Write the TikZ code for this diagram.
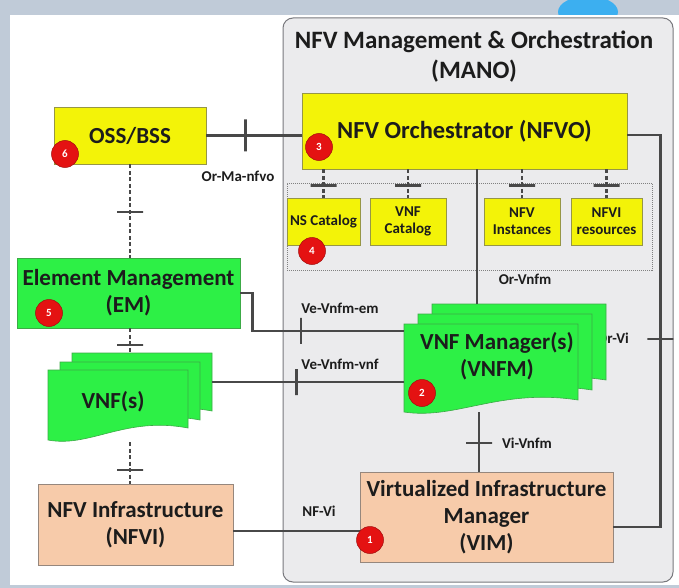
\documentclass[tikz,border=0pt]{standalone}
\usepackage{fontspec}
\setmainfont{Carlito}
\usetikzlibrary{calc}

\definecolor{backblue}{RGB}{192,203,216}
\definecolor{blobblue}{RGB}{60,175,240}
\definecolor{manogray}{RGB}{235,235,237}
\definecolor{manoedge}{RGB}{120,120,125}
\definecolor{boxyellow}{RGB}{243,243,8}
\definecolor{yellowedge}{RGB}{150,150,70}
\definecolor{boxgreen}{RGB}{45,240,70}
\definecolor{greenedge}{RGB}{60,170,70}
\definecolor{boxtan}{RGB}{247,203,170}
\definecolor{tanedge}{RGB}{150,135,125}
\definecolor{badgered}{RGB}{228,18,18}
\definecolor{linegray}{RGB}{72,72,72}
\definecolor{textdark}{RGB}{28,28,28}

\newcommand{\vnfsheet}[4]{%
	\filldraw[sheet] (#1,#2) -- (#1+#3,#2) -- (#1+#3,#2+#4-12)
		.. controls (#1+0.55*#3,#2+#4-24) and (#1+0.3*#3,#2+#4+8) .. (#1,#2+#4) -- cycle;}

\begin{document}
\begin{tikzpicture}[x=1pt,y=-1pt,
	yellowbox/.style={draw=yellowedge, fill=boxyellow, line width=0.8pt, inner sep=0pt, align=center, text=textdark},
	greenbox/.style={draw=greenedge, fill=boxgreen, line width=0.8pt, inner sep=0pt, align=center, text=textdark},
	tanbox/.style={draw=tanedge, fill=boxtan, line width=0.8pt, inner sep=0pt, align=center, text=textdark},
	sheet/.style={fill=boxgreen, draw=greenedge, line width=0.6pt},
	big/.style={font=\fontsize{23}{27}\selectfont\bfseries},
	small/.style={font=\fontsize{15}{17}\selectfont\bfseries},
	iflabel/.style={font=\fontsize{15}{17}\selectfont\bfseries, text=textdark, inner sep=0pt},
	link/.style={draw=linegray, line width=2.5pt},
	dotlink/.style={link, dash pattern=on 4pt off 2.5pt},
	crossbar/.style={draw=linegray, solid, line width=2.5pt, inner sep=0pt, minimum width=0pt, minimum height=26pt, sloped},
	badge/.style={circle, fill=badgered, draw=badgered!70!black, line width=0.5pt, minimum size=27pt, inner sep=0pt, text=white, font=\fontsize{11}{11}\selectfont\bfseries}]

	\useasboundingbox (0,0) rectangle (679,588);
	\fill[backblue] (0,0) rectangle (679,588);
	\fill[blobblue] (588,12) ellipse (30 and 16);
	\fill[white] (10,15) rectangle (679,585);

	\node[draw=manoedge, fill=manogray, rounded corners=10pt, line width=1pt, minimum width=390, minimum height=564] (mano) at (478,300) {};
	\node[font=\fontsize{25}{30}\selectfont\bfseries, text=textdark, align=center] (manotitle) at (474,57) {NFV Management \& Orchestration\\(MANO)};

	\node[yellowbox, big, minimum width=152, minimum height=57] (oss) at (130,135.5) {OSS/BSS};
	\node[yellowbox, font=\fontsize{24.5}{28}\selectfont\bfseries, minimum width=325, minimum height=76] (nfvo) at (464.5,131) {NFV Orchestrator (NFVO)};

	\node[draw=gray, densely dotted, line width=1pt, minimum width=365, minimum height=87] (catalogs) at (469.5,226.5) {};
	\node[yellowbox, small, minimum width=73, minimum height=47] (nscat) at (323.5,221.5) {NS Catalog};
	\node[yellowbox, small, minimum width=76, minimum height=47] (vnfcat) at (408,221.5) {VNF\\Catalog};
	\node[yellowbox, small, minimum width=76, minimum height=47] (nfvinst) at (522,221.5) {NFV\\Instances};
	\node[yellowbox, small, minimum width=71, minimum height=47] (nfvires) at (606.5,221.5) {NFVI\\resources};

	\node[greenbox, big, minimum width=223, minimum height=70] (em) at (128.5,293) {Element Management\\(EM)};

	\node[iflabel] (l-orvi) at (613,338) {Or-Vi};

	\vnfsheet{72}{353}{140}{70}
	\vnfsheet{60}{362}{140}{70}
	\vnfsheet{48}{370}{140}{70}
	\node[minimum width=164, minimum height=89, inner sep=0pt] (vnf) at (130,397.5) {};
	\node[big, text=textdark] (vnftext) at (113,402) {VNF(s)};

	\vnfsheet{432}{304}{174}{88}
	\vnfsheet{418}{314}{174}{88}
	\vnfsheet{404}{324}{174}{88}
	\node[minimum width=203, minimum height=108, inner sep=0pt] (vnfm) at (505.5,358) {};
	\node[big, text=textdark, align=center] (vnfmtext) at (497,356) {VNF Manager(s)\\(VNFM)};

	\node[tanbox, big, minimum width=195, minimum height=81] (nfvi) at (135.5,524.5) {NFV Infrastructure\\(NFVI)};
	\node[tanbox, big, minimum width=253, minimum height=90] (vim) at (486.5,517) {Virtualized Infrastructure\\Manager\\(VIM)};

	\draw[link] (oss.east) -- (oss.east -| nfvo.west) node[crossbar, pos=.41, minimum height=32pt] (t-orma) {};
	\draw[dotlink] (oss.south) -- (oss.south |- em.north) node[crossbar, pos=.51] (t-ossem) {};
	\draw[dotlink] (vnf.north |- em.south) -- (vnf.north) node[crossbar, pos=.68] (t-emvnf) {};
	\draw[dotlink] (vnf.south) -- (vnf.south |- nfvi.north) node[crossbar, pos=.67] (t-vnfnfvi) {};
	\foreach \c in {nscat,vnfcat,nfvinst,nfvires}
		\draw[dotlink] (\c.north |- nfvo.south) -- (\c.north) node[crossbar, pos=.57] (t-\c) {};
	\draw[link] ([xshift=12.5pt]nfvo.south) -- ([xshift=12.5pt]nfvo.south |- vnfm.north);
	\draw[link] (em.east) -- ++(12,0) |- ([yshift=-27pt]vnfm.north west) node[crossbar, pos=.66] (t-vnfmem) {};
	\draw[link] ([yshift=15.5pt]vnf.east) -- ([yshift=15.5pt]vnf.east -| vnfm.west) node[crossbar, pos=.44] (t-vnfmvnf) {};
	\draw[link] ([xshift=-7.5pt]vim.north |- vnfm.south) -- ([xshift=-7.5pt]vim.north) node[crossbar, pos=.52] (t-vivnfm) {};
	\draw[link] ([yshift=-6.5pt]nfvi.east) -- ([yshift=-6.5pt]nfvi.east -| vim.west);
	\draw[link] ([yshift=-4pt]nfvo.east) -- ++(33,0) |- ([yshift=-10pt]vim.east) node[crossbar, pos=.26] (t-orvi) {};

	\node[iflabel] (l-orma) at (238,176) {Or-Ma-nfvo};
	\node[iflabel] (l-orvnfm) at (525,279) {Or-Vnfm};
	\node[iflabel] (l-vnfmem) at (340,308) {Ve-Vnfm-em};
	\node[iflabel] (l-vnfmvnf) at (340,364) {Ve-Vnfm-vnf};
	\node[iflabel] (l-vivnfm) at (527,443) {Vi-Vnfm};
	\node[iflabel] (l-nfvi) at (319,511) {NF-Vi};

	\node[badge] (b1) at (370,540) {1};
	\node[badge] (b2) at (422,393) {2};
	\node[badge] (b3) at (319,147) {3};
	\node[badge] (b4) at (312,251) {4};
	\node[badge] (b5) at (49,313) {5};
	\node[badge] (b6) at (65,154) {6};
\end{tikzpicture}
\end{document}
